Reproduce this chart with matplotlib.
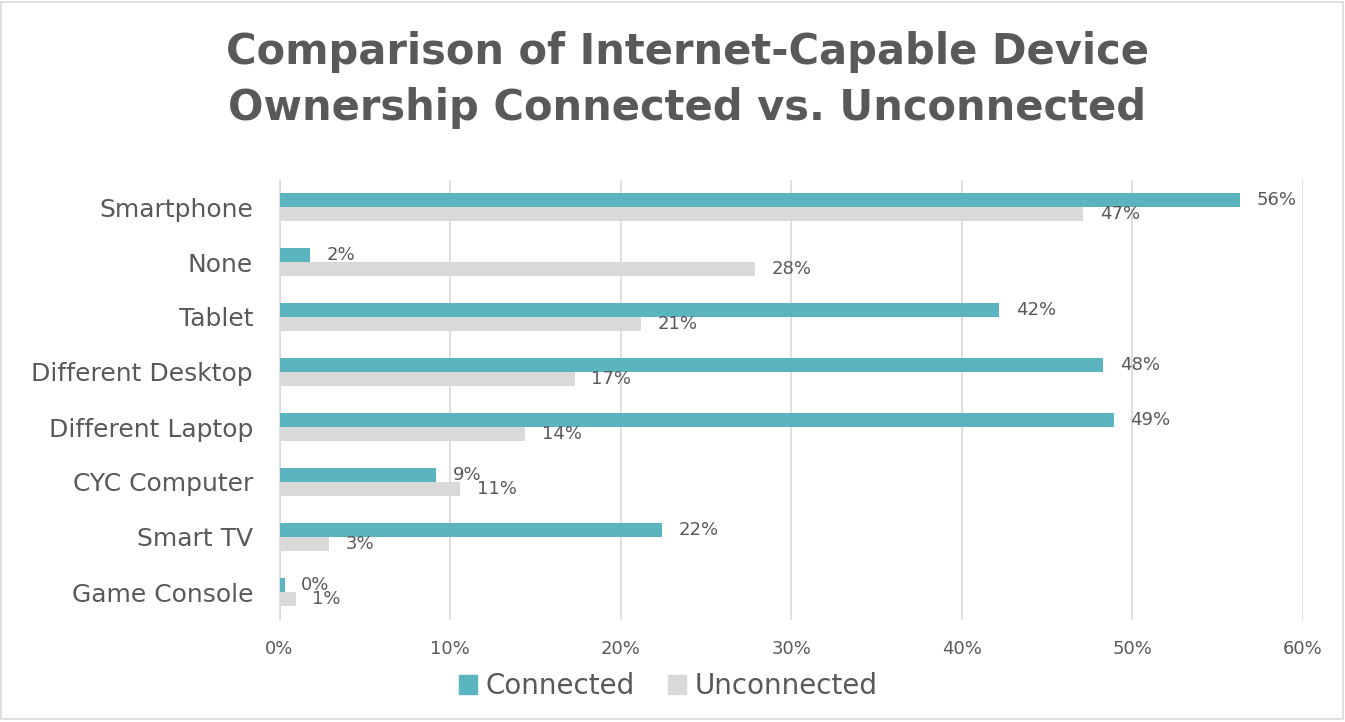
import matplotlib
matplotlib.use("Agg")
import matplotlib.pyplot as plt
import numpy as np
from matplotlib.patches import Rectangle, Patch

categories = ["Smartphone", "None", "Tablet", "Different Desktop", "Different Laptop",
              "CYC Computer", "Smart TV", "Game Console"]
connected = [56.3, 1.8, 42.2, 48.3, 48.9, 9.2, 22.4, 0.3]
unconnected = [47.1, 27.9, 21.2, 17.3, 14.4, 10.6, 2.9, 0.95]
xticks = [0, 10, 20, 30, 40, 50, 60]
title = "Comparison of Internet-Capable Device\nOwnership Connected vs. Unconnected"

TEAL = "#5AB5C0"
GRAY = "#D9D9D9"
TXT = "#595959"

W, H = 1345, 722
fig = plt.figure(figsize=(W / 100, H / 100), dpi=100)
plt.rcParams['font.family'] = ['DejaVu Sans']

ax = fig.add_axes([279.5 / W, 1 - 619.5 / H, (1303 - 279.5) / W, 440 / H])

y = np.arange(len(categories))
h = 0.255
ax.barh(y - h / 2, connected, height=h, color=TEAL, label="Connected", zorder=3)
ax.barh(y + h / 2, unconnected, height=h, color=GRAY, label="Unconnected", zorder=3)

for yi, v in zip(y, connected):
    ax.annotate(f"{round(v)}%", (v, yi - h / 2), xytext=(12, 0), textcoords="offset points",
                va="center", ha="left", fontsize=13, color=TXT)
for yi, v in zip(y, unconnected):
    ax.annotate(f"{round(v)}%", (v, yi + h / 2), xytext=(12, 0), textcoords="offset points",
                va="center", ha="left", fontsize=13, color=TXT)

ax.set_xlim(0, 60)
ax.set_ylim(len(categories) - 0.5, -0.5)
ax.set_xticks(xticks)
ax.set_xticklabels([f"{t}%" for t in xticks], fontsize=13, color=TXT)
ax.set_yticks(y)
ax.set_yticklabels(categories, fontsize=18, color=TXT)
ax.tick_params(axis="x", length=0, pad=15)
ax.tick_params(axis="y", length=0, pad=19)
ax.grid(axis="x", color=GRAY, linewidth=1.2, zorder=0)
for s in ["top", "right", "bottom"]:
    ax.spines[s].set_visible(False)
ax.spines["left"].set_color(GRAY)
ax.spines["left"].set_linewidth(1.2)

fig.text(687 / W, 1 - 80 / H, title, ha="center", va="center", fontsize=30,
         fontweight="bold", color=TXT, linespacing=1.42)

handles = [Patch(color=TEAL, label="Connected"), Patch(color=GRAY, label="Unconnected")]
fig.legend(handles=handles, loc="center", bbox_to_anchor=(668 / W, 1 - 686 / H), ncol=2,
           frameon=False, fontsize=20, labelcolor=TXT, handlelength=0.65, handleheight=0.65,
           handletextpad=0.3, columnspacing=1.2)

fig.patches.append(Rectangle((1 / W, 3 / H), (W - 3) / W, (H - 5) / H, transform=fig.transFigure,
                             fill=False, edgecolor=GRAY, linewidth=1.2))

fig.savefig("out.png", dpi=100)
